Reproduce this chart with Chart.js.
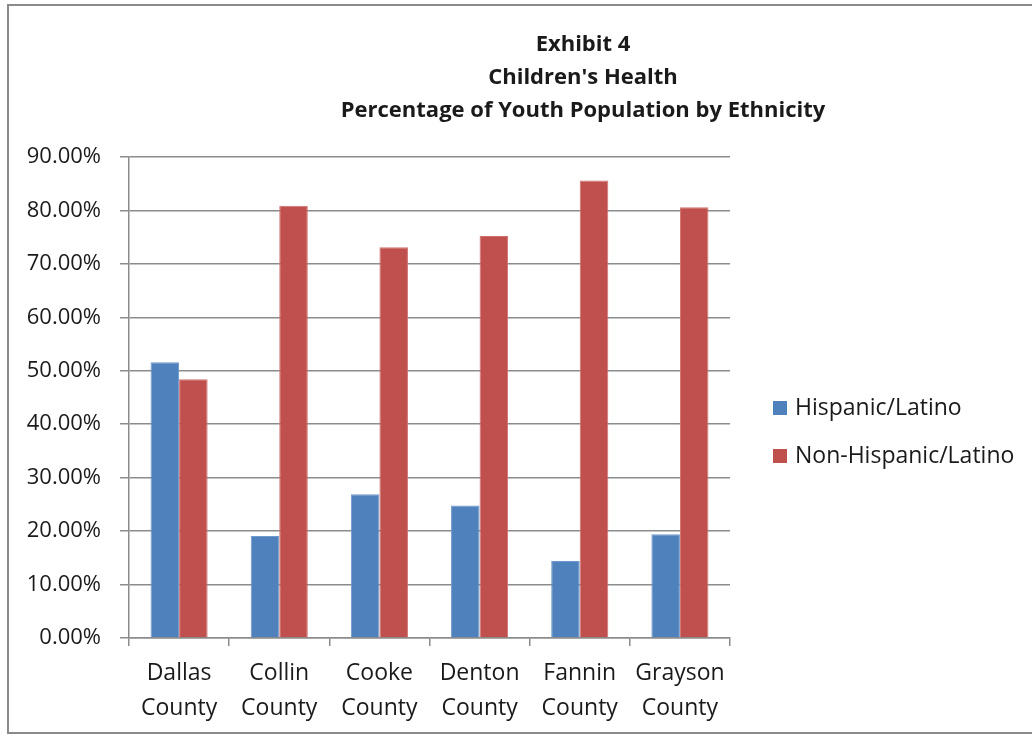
<!DOCTYPE html>
<html>
<head>
<meta charset="utf-8">
<script src="https://cdn.jsdelivr.net/npm/chart.js@4"></script>
<style>
  html, body { margin: 0; padding: 0; background: #ffffff; }
  #wrap { position: relative; width: 1032px; height: 736px; }
</style>
</head>
<body>
<div id="wrap"><canvas id="c" width="1032" height="736"></canvas></div>
<script>
// Counties shown along the x axis (two-line labels)
const counties = [
  ['Dallas', 'County'],
  ['Collin', 'County'],
  ['Cooke', 'County'],
  ['Denton', 'County'],
  ['Fannin', 'County'],
  ['Grayson', 'County']
];

// Share of youth population, in percent
const hispanicLatino    = [51.6, 19.1, 26.9, 24.8, 14.4, 19.4];
const nonHispanicLatino = [48.4, 80.9, 73.1, 75.2, 85.6, 80.6];

const seriesNames = ['Hispanic/Latino', 'Non-Hispanic/Latino'];
const seriesColors = ['#4f81bd', '#c0504d'];

const titleLines = ['Exhibit 4', "Children's Health", 'Percentage of Youth Population by Ethnicity'];

const yTickMax = 90;
const yTickStep = 10;

const FONT = '"Open Sans", "Liberation Sans", sans-serif';
const GRID = '#8c8c8c';
const TEXT = '#1a1a1a';

// Outer frame, three-line heading and the series key on the right
const frameTitleKey = {
  id: 'frameTitleKey',
  afterDraw(chart) {
    const ctx = chart.ctx;
    ctx.save();
    ctx.strokeStyle = '#8a8a8a';
    ctx.lineWidth = 2;
    ctx.strokeRect(8, 5, 1030, 728);

    ctx.fillStyle = TEXT;
    ctx.font = 'bold 22px ' + FONT;
    ctx.textAlign = 'center';
    ctx.textBaseline = 'middle';
    const ys = [45, 78, 111];
    titleLines.forEach((t, i) => ctx.fillText(t, 583, ys[i]));

    ctx.font = '23px ' + FONT;
    ctx.textAlign = 'left';
    const keyY = [408, 456];
    chart.data.datasets.forEach((ds, i) => {
      ctx.fillStyle = ds.backgroundColor;
      ctx.fillRect(773, keyY[i] - 7, 14, 14);
      ctx.fillStyle = TEXT;
      ctx.fillText(ds.label, 795, keyY[i]);
    });
    ctx.restore();
  }
};

new Chart(document.getElementById('c'), {
  type: 'bar',
  data: {
    labels: counties,
    datasets: [
      { label: seriesNames[0], data: hispanicLatino, backgroundColor: seriesColors[0],
        borderColor: '#6f98cc', borderWidth: 1, borderSkipped: 'bottom' },
      { label: seriesNames[1], data: nonHispanicLatino, backgroundColor: seriesColors[1],
        borderColor: '#d0706e', borderWidth: 1, borderSkipped: 'bottom' }
    ]
  },
  options: {
    responsive: false,
    animation: false,
    devicePixelRatio: 1,
    layout: { padding: { top: 157, left: 0, right: 302, bottom: 0 } },
    datasets: { bar: { categoryPercentage: 0.57, barPercentage: 1.0 } },
    plugins: {
      title: { display: false },
      tooltip: { enabled: false },
      legend: { display: false }
    },
    scales: {
      x: {
        grid: { display: true, drawOnChartArea: false, drawTicks: true, tickLength: 8, color: GRID, lineWidth: 1.5, offset: true },
        border: { display: true, color: GRID, width: 1.5 },
        ticks: { color: TEXT, padding: 10, maxRotation: 0, autoSkip: false, font: { family: FONT, size: 23, lineHeight: '35px' } },
        afterFit(s) { s.height = 98; }
      },
      y: {
        min: 0,
        max: yTickMax,
        grid: { color: GRID, lineWidth: 1.5, tickLength: 9 },
        border: { display: true, color: GRID, width: 1.5 },
        ticks: {
          stepSize: yTickStep,
          color: TEXT,
          padding: 19,
          font: { family: FONT, size: 22 },
          callback: v => v.toFixed(2) + '%'
        },
        afterFit(s) { s.width = 129; }
      }
    }
  },
  plugins: [frameTitleKey]
});
</script>
</body>
</html>
